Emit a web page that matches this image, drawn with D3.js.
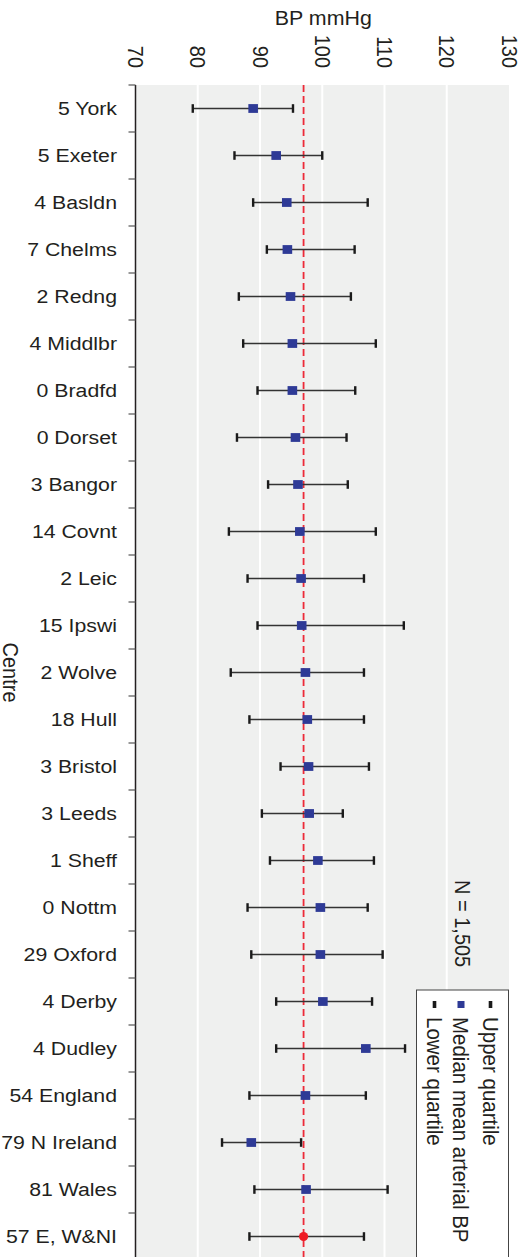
<!DOCTYPE html>
<html>
<head>
<meta charset="utf-8">
<script src="https://cdn.jsdelivr.net/npm/d3@7"></script>
<style>
  body { margin: 0; background: #fff; }
  svg { display: block; }
  text { font-family: "Liberation Sans", Arial, Helvetica, sans-serif; fill: #231f20; }
</style>
</head>
<body>
<svg id="chart" width="528" height="1257"></svg>
<script>
// Centres (sample size + name), top to bottom
const centres = [
  "5 York", "5 Exeter", "4 Basldn", "7 Chelms", "2 Redng", "4 Middlbr",
  "0 Bradfd", "0 Dorset", "3 Bangor", "14 Covnt", "2 Leic", "15 Ipswi",
  "2 Wolve", "18 Hull", "3 Bristol", "3 Leeds", "1 Sheff", "0 Nottm",
  "29 Oxford", "4 Derby", "4 Dudley", "54 England", "79 N Ireland",
  "81 Wales", "57 E, W&NI"
];
// Lower quartile of mean arterial BP (mmHg)
const lowerQuartile = [
  79.2, 85.9, 88.9, 91.1, 86.6, 87.3, 89.6, 86.3, 91.3, 85.0, 88.0, 89.6,
  85.3, 88.3, 93.3, 90.3, 91.6, 88.0, 88.6, 92.6, 92.6, 88.3, 83.9, 89.1, 88.3
];
// Median mean arterial BP (mmHg)
const medianBP = [
  88.9, 92.6, 94.3, 94.4, 94.9, 95.2, 95.2, 95.7, 96.1, 96.4, 96.6, 96.7,
  97.3, 97.6, 97.8, 97.9, 99.3, 99.7, 99.7, 100.1, 107.0, 97.3, 88.6, 97.4, 97.0
];
// Upper quartile of mean arterial BP (mmHg)
const upperQuartile = [
  95.3, 100.0, 107.3, 105.2, 104.6, 108.6, 105.3, 103.9, 104.1, 108.6, 106.7, 113.1,
  106.7, 106.7, 107.5, 103.3, 108.3, 107.3, 109.7, 108.0, 113.3, 107.0, 96.6, 110.5, 106.7
];
const xTicks = [70, 80, 90, 100, 110, 120, 130];
const overallMedian = 97.0;
const overallLabel = "57 E, W&NI";
const legendLabels = ["Upper quartile", "Median mean arterial BP", "Lower quartile"];
const sampleNote = "N = 1,505";

const rows = centres.map((c, i) => ({
  centre: c, lo: lowerQuartile[i], med: medianBP[i], hi: upperQuartile[i]
}));

// text is drawn slightly wide across the page
const SX = 1.12;

const svg = d3.select("#chart");
const panel = { left: 135.5, right: 509, top: 85, bottom: 85 + centres.length * 47 };

const x = d3.scaleLinear().domain([70, 130]).range([panel.left, panel.right]);
const y = d3.scaleBand().domain(centres).range([panel.top, panel.bottom]).padding(0);

// Panel background
svg.append("rect")
  .attr("x", x(70)).attr("y", panel.top)
  .attr("width", x(130) - x(70)).attr("height", panel.bottom - panel.top)
  .attr("fill", "#eff0ef");

// Vertical gridlines
svg.append("g").selectAll("line")
  .data(xTicks.filter(t => t > 70 && t < 130))
  .join("line")
  .attr("x1", d => x(d)).attr("x2", d => x(d))
  .attr("y1", panel.top).attr("y2", panel.bottom)
  .attr("stroke", "#ffffff").attr("stroke-width", 2);

// Top axis: rotated tick labels
const xAxis = svg.append("g")
  .attr("transform", `translate(0,68)`)
  .call(d3.axisTop(x).tickValues(xTicks).tickSize(0).tickPadding(0));
xAxis.select(".domain").remove();
xAxis.selectAll(".tick text")
  .attr("font-size", 20)
  .attr("fill", "#231f20")
  .attr("text-anchor", "end")
  .attr("dominant-baseline", "central")
  .attr("x", 0).attr("y", 0).attr("dy", null)
  .attr("transform", `scale(${SX},1) rotate(90)`);

// Axis title
svg.append("text")
  .attr("transform", `translate(${x(100) + 1},25) scale(${SX * 0.98},1)`)
  .attr("text-anchor", "middle")
  .attr("font-size", 19.5)
  .text("BP mmHg");

// Left axis line with ticks at band boundaries
svg.append("line")
  .attr("x1", panel.left).attr("x2", panel.left)
  .attr("y1", panel.top).attr("y2", panel.bottom)
  .attr("stroke", "#231f20").attr("stroke-width", 1.5);
svg.append("g").selectAll("line")
  .data(centres)
  .join("line")
  .attr("x1", panel.left - 7).attr("x2", panel.left)
  .attr("y1", d => y(d)).attr("y2", d => y(d))
  .attr("stroke", "#555").attr("stroke-width", 1.2);

// Category labels
const yAxis = svg.append("g")
  .attr("transform", `translate(117,0)`)
  .call(d3.axisLeft(y).tickSize(0).tickPadding(0));
yAxis.select(".domain").remove();
yAxis.selectAll(".tick text")
  .attr("font-size", 19)
  .attr("fill", "#231f20")
  .attr("x", 0)
  .attr("dy", "0.36em")
  .attr("transform", `scale(${SX},1)`);

// Y title
svg.append("text")
  .attr("transform", `translate(3,${(panel.top + panel.bottom) / 2}) scale(${SX},1) rotate(90)`)
  .attr("text-anchor", "middle")
  .attr("font-size", 20)
  .text("Centre");

// Reference line at the overall median
svg.append("line")
  .attr("x1", x(overallMedian)).attr("x2", x(overallMedian))
  .attr("y1", panel.top).attr("y2", panel.bottom)
  .attr("stroke", "#ec2a38").attr("stroke-width", 1.8)
  .attr("stroke-dasharray", "7,4");

// Interquartile whiskers
const marks = svg.append("g");
const cy = d => y(d.centre) + y.bandwidth() / 2;
marks.selectAll("line.range")
  .data(rows).join("line").attr("class", "range")
  .attr("x1", d => x(d.lo)).attr("x2", d => x(d.hi))
  .attr("y1", cy).attr("y2", cy)
  .attr("stroke", "#333").attr("stroke-width", 1.5);
marks.selectAll("rect.capLo")
  .data(rows).join("rect").attr("class", "capLo")
  .attr("x", d => x(d.lo) - 1.2).attr("y", d => cy(d) - 4.3)
  .attr("width", 2.4).attr("height", 8.6).attr("fill", "#1a1a1a");
marks.selectAll("rect.capHi")
  .data(rows).join("rect").attr("class", "capHi")
  .attr("x", d => x(d.hi) - 1.2).attr("y", d => cy(d) - 4.3)
  .attr("width", 2.4).attr("height", 8.6).attr("fill", "#1a1a1a");

// Medians: squares for centres, dot for the overall
marks.selectAll("rect.med")
  .data(rows.filter(d => d.centre !== overallLabel)).join("rect").attr("class", "med")
  .attr("x", d => x(d.med) - 4.8).attr("y", d => cy(d) - 4.4)
  .attr("width", 9.6).attr("height", 8.8)
  .attr("fill", "#2e3a96");
marks.selectAll("circle.med")
  .data(rows.filter(d => d.centre === overallLabel)).join("circle").attr("class", "med")
  .attr("cx", d => x(d.med)).attr("cy", cy)
  .attr("r", 4.6).attr("fill", "#ee1c25");

// Sample size note
svg.append("text")
  .attr("transform", `translate(455,880) scale(${SX},1) rotate(90)`)
  .attr("font-size", 20)
  .text(sampleNote);

// Legend
const legend = svg.append("g");
legend.append("rect")
  .attr("x", 416.5).attr("y", 990)
  .attr("width", 92).attr("height", 290)
  .attr("fill", "#ffffff").attr("stroke", "#444").attr("stroke-width", 1);
const legendCols = [482.5, 453, 426.5];
legendLabels.forEach((lab, i) => {
  const bx = legendCols[i];
  legend.append("text")
    .attr("transform", `translate(${bx},1017) scale(${SX},1) rotate(90)`)
    .attr("font-size", 20.5)
    .text(lab);
  if (i === 1) {
    legend.append("rect")
      .attr("x", bx + 8 - 3.5).attr("y", 1001)
      .attr("width", 7).attr("height", 7).attr("fill", "#2e3a96");
  } else {
    legend.append("rect")
      .attr("x", bx + 8 - 1.8).attr("y", 1001)
      .attr("width", 3.6).attr("height", 7).attr("fill", "#1a1a1a");
  }
});
</script>
</body>
</html>
